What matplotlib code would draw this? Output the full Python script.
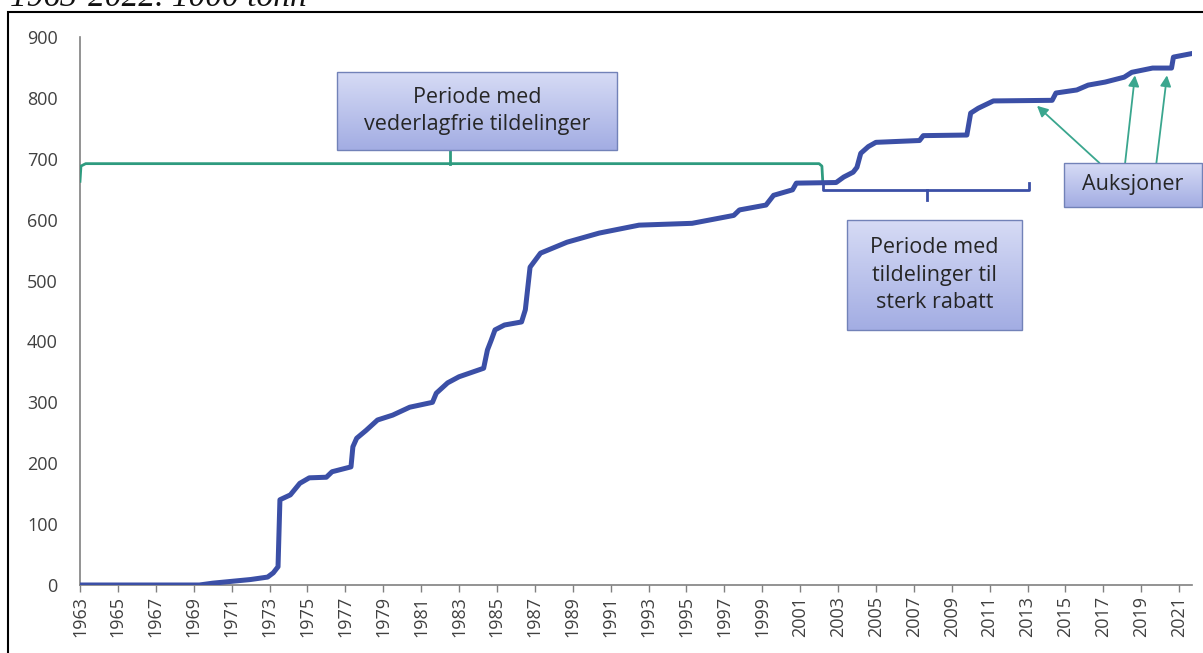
import numpy as np
import matplotlib
matplotlib.use("Agg")
import matplotlib.pyplot as plt
from matplotlib.patches import Rectangle
from matplotlib.colors import LinearSegmentedColormap

# cumulative allocations, 1000 tonn
years = [1963.0, 1969.3, 1970.0, 1971.0, 1972.0, 1972.9, 1973.2, 1973.45, 1973.55,
         1974.1, 1974.6, 1975.1, 1976.0, 1976.3, 1977.3, 1977.4, 1977.6, 1978.1,
         1978.7, 1979.5, 1980.4, 1981.6, 1981.8, 1982.4, 1983.0, 1984.3, 1984.5,
         1984.7, 1984.9, 1985.4, 1986.3, 1986.5, 1986.75, 1987.3, 1988.7, 1990.4,
         1992.5, 1995.3, 1997.5, 1997.8, 1999.2, 1999.6, 2000.6, 2000.8, 2002.9,
         2003.3, 2003.8, 2004.0, 2004.2, 2004.6, 2005.0, 2007.3, 2007.5, 2009.8,
         2010.0, 2010.4, 2011.2, 2014.3, 2014.5, 2015.6, 2016.2, 2017.1, 2018.1,
         2018.5, 2019.6, 2020.6, 2020.7, 2021.7]
values = [0, 0, 3, 6, 9, 13, 20, 30, 140,
          148, 167, 176, 177, 186, 194, 227, 241, 254,
          271, 279, 292, 300, 315, 332, 342, 356, 386,
          402, 419, 427, 432, 452, 522, 545, 563, 578,
          591, 594, 607, 616, 624, 640, 649, 660, 661,
          670, 678, 686, 709, 720, 727, 730, 738, 739,
          775, 783, 795, 796, 808, 813, 821, 826, 834,
          842, 849, 849, 867, 873]

tick_years = list(range(1963, 2022, 2))
y_ticks = list(range(0, 901, 100))

free_period = (1963.0, 2002.2)      # vederlagfrie tildelinger
discount_period = (2002.2, 2013.1)  # tildelinger til sterk rabatt
auction_targets = [(2013.5, 787), (2018.67, 837), (2020.36, 837)]

LINE = "#3b4fa6"
GREEN = "#2e9b7f"
ARROW = "#3aa68e"
TXT = "#262626"

plt.rcParams['font.family'] = ['Open Sans', 'DejaVu Sans']

fig = plt.figure(figsize=(12.03, 6.53), dpi=100)
ax = fig.add_axes([80/1203, 1 - 585/653, (1192 - 80)/1203, (585 - 37)/653])

ax.plot(years, values, color=LINE, lw=3.6, solid_joinstyle='round', zorder=4)

# bracket for free allocations
x0, x1 = free_period
ax.plot([x0, x0 + 0.05, x0 + 0.3, x1 - 0.2, x1 - 0.05, x1],
        [663, 688, 692, 692, 688, 660], color=GREEN, lw=2, zorder=3)
ax.plot([1982.5, 1982.5], [692, 714], color=GREEN, lw=2, zorder=3)

# bracket for discounted allocations
d0, d1 = discount_period
ax.plot([d0, d0, d1, d1], [660, 648, 648, 660], color=LINE, lw=2, zorder=3)
ax.plot([2007.7, 2007.7], [648, 633], color=LINE, lw=2, zorder=3)

grad = LinearSegmentedColormap.from_list("box", ["#d6dbf5", "#a3ade3"])


def label_box(xa, xb, ya, yb, text):
    img = np.linspace(0, 1, 64).reshape(-1, 1)
    im = ax.imshow(img, extent=[xa, xb, ya, yb], origin='upper', cmap=grad,
                   aspect='auto', zorder=5)
    im.set_clip_on(False)
    ax.add_patch(Rectangle((xa, ya), xb - xa, yb - ya, fill=False,
                           ec="#7282b8", lw=1, zorder=6, clip_on=False))
    ax.text((xa + xb) / 2, (ya + yb) / 2, text, ha='center', va='center',
            fontsize=15.5, color=TXT, linespacing=1.4, zorder=7, clip_on=False)


label_box(1976.56, 1991.34, 714, 842, "Periode med\nvederlagfrie tildelinger")
label_box(2003.5, 2012.7, 419, 599, "Periode med\ntildelinger til\nsterk rabatt")
label_box(2014.9, 2022.2, 621, 693, "Auksjoner")

starts = [(2016.8, 693), (2018.15, 693), (2019.8, 693)]
for (sx, sy), (tx, ty) in zip(starts, auction_targets):
    ax.annotate("", xy=(tx, ty), xytext=(sx, sy),
                arrowprops=dict(arrowstyle='-|>', color=ARROW, lw=1.3,
                                mutation_scale=16, shrinkA=0, shrinkB=0),
                zorder=4)

ax.set_xlim(1963, 2021.68)
ax.set_ylim(0, 900)
ax.set_xticks(tick_years)
ax.set_xticklabels([str(y) for y in tick_years], rotation=90)
ax.set_yticks(y_ticks)

for s in ['top', 'right']:
    ax.spines[s].set_visible(False)
for s in ['left', 'bottom']:
    ax.spines[s].set_color('#808080')
    ax.spines[s].set_linewidth(1.2)

ax.tick_params(axis='x', direction='out', length=5, width=1, color='#808080',
               labelsize=13, labelcolor='#404040', pad=3)
ax.tick_params(axis='y', length=0, labelsize=13, labelcolor='#404040', pad=16)

# frame around the figure and clipped heading
fig.patches.append(Rectangle((8/1203, -0.02), 1.1, 1 - 12/653 + 0.02,
                             transform=fig.transFigure, fill=False,
                             ec='black', lw=1.5))
fig.text(10/1203, 1 - 6/653, "1963-2022. 1000 tonn", ha='left', va='baseline',
         family='Liberation Serif', style='italic', fontsize=24, color='#111111')

fig.savefig("out.png", dpi=100)
